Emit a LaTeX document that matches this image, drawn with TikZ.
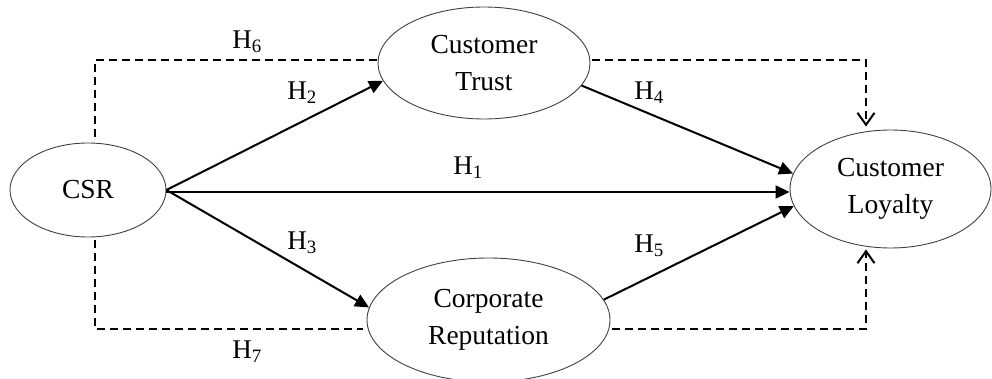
\documentclass[tikz,border=0pt]{standalone}
\usepackage{fontspec}
\setmainfont{Liberation Serif}
\usetikzlibrary{shapes.geometric,arrows.meta}
\begin{document}
\begin{tikzpicture}[x=1pt,y=1pt,
  latent/.style={draw=black!75, line width=0.9pt, ellipse, inner sep=0pt, align=center, font=\fontsize{27.5}{37}\selectfont},
  solidpath/.style={line width=2pt, -{Triangle[length=14pt,width=13pt]}},
  dpath/.style={line width=2pt, dash pattern=on 8pt off 5pt},
  darrow/.style={dpath, -{Straight Barb[length=12pt,width=17pt,line width=2pt]}},
  hlab/.style={font=\fontsize{27}{30}\selectfont, inner sep=0pt}]
\useasboundingbox (0,0) rectangle (992,378);
\node[latent, minimum width=156pt, minimum height=94pt] (csr) at (88,188) {CSR};
\node[latent, minimum width=212pt, minimum height=112pt] (trust) at (484,315) {Customer\\Trust};
\node[latent, minimum width=201pt, minimum height=118pt] (loyal) at (890.5,189) {Customer\\Loyalty};
\node[latent, minimum width=243pt, minimum height=124pt] (rep) at (488.5,58) {Corporate\\Reputation};
% solid paths
\draw[solidpath] ([yshift=-2pt]csr.east) -- ([yshift=-2pt]csr.east -| loyal.west);
\draw[solidpath] (csr.east) -- (trust.190);
\draw[solidpath] (csr.east) -- (rep.174);
\draw[solidpath] (trust.-13) -- (loyal.171);
\draw[solidpath] (rep.10) -- (loyal.190);
% dashed paths
\draw[dpath] ([xshift=7pt,yshift=6pt]csr.north) |- ([yshift=3pt]trust.west);
\draw[darrow] ([xshift=2pt,yshift=3pt]trust.east) -| ([xshift=-24.5pt,yshift=3pt]loyal.north);
\draw[dpath] ([xshift=7pt,yshift=-3pt]csr.south) |- ([xshift=-4pt,yshift=-9pt]rep.west);
\draw[darrow] ([xshift=2pt,yshift=-9pt]rep.east) -| ([xshift=-24.5pt,yshift=-1pt]loyal.south);
% labels
\node[hlab] (h6) at (247,336) {H\textsubscript{6}};
\node[hlab] (h2) at (302,285) {H\textsubscript{2}};
\node[hlab] (h1) at (468,210) {H\textsubscript{1}};
\node[hlab] (h4) at (649,285) {H\textsubscript{4}};
\node[hlab] (h3) at (302,135) {H\textsubscript{3}};
\node[hlab] (h5) at (649,132) {H\textsubscript{5}};
\node[hlab] (h7) at (247,26) {H\textsubscript{7}};
\end{tikzpicture}
\end{document}
